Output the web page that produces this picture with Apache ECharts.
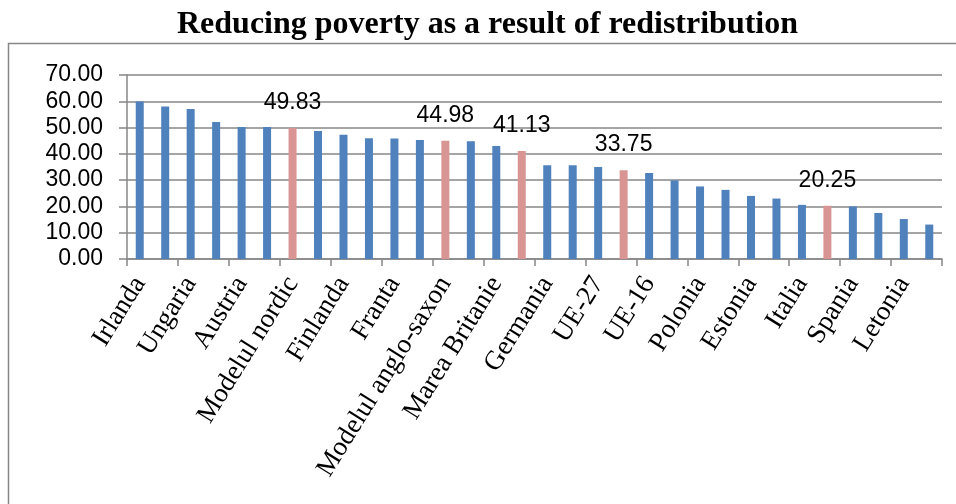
<!DOCTYPE html>
<html>
<head>
<meta charset="utf-8">
<title>Reducing poverty as a result of redistribution</title>
<script src="https://cdn.jsdelivr.net/npm/echarts@6/dist/echarts.min.js"></script>
<style>
  html, body { margin: 0; padding: 0; background: #fff; }
  #chart { width: 956px; height: 504px; }
</style>
</head>
<body>
<div id="chart"></div>
<script>
// categories (only every second one is labelled on the axis)
const categories = [
  'Irlanda', 'Danemarca', 'Ungaria', 'Suedia', 'Austria', 'Luxemburg',
  'Modelul nordic', 'Cehia', 'Finlanda', 'Belgia', 'Franta', 'Slovenia',
  'Modelul anglo-saxon', 'Olanda', 'Marea Britanie', 'Modelul continental',
  'Germania', 'Slovacia', 'UE-27', 'Modelul central-estic', 'UE-16', 'Portugalia',
  'Polonia', 'Lituania', 'Estonia', 'Bulgaria', 'Italia', 'Modelul mediteranean',
  'Spania', 'Romania', 'Letonia', 'Grecia'
]
const values = [
  59.9, 58.0, 57.1, 52.1, 50.2, 50.2, 49.83, 48.7,
  47.3, 45.9, 45.8, 45.3, 44.98, 44.8, 43.0, 41.13,
  35.7, 35.7, 35.0, 33.75, 32.7, 29.9, 27.6, 26.3,
  24.0, 23.0, 20.6, 20.25, 20.0, 17.5, 15.2, 13.1
]
// social models are highlighted in pink and labelled
const highlighted = [6, 12, 15, 19, 27]
const yTicks = [0, 10, 20, 30, 40, 50, 60, 70]

const blue = '#4f81bd'
const pink = '#d99594'
const gray = '#878787'

const chart = echarts.init(document.getElementById('chart'))

const option = {
  animation: false,
  title: {
    text: 'Reducing poverty as a result of redistribution',
    left: 177,
    top: 9,
    padding: 0,
    textStyle: {
      fontFamily: 'Liberation Serif',
      fontWeight: 'bold',
      fontSize: 32,
      color: '#000'
    }
  },
  graphic: [
    {
      type: 'rect',
      shape: { x: 8.5, y: 43.5, width: 1000, height: 500 },
      style: { fill: 'none', stroke: gray, lineWidth: 1.5 },
      silent: true
    }
  ],
  grid: { left: 127, right: 14, top: 75, bottom: 245 },
  xAxis: {
    type: 'category',
    data: categories,
    axisLine: { lineStyle: { color: gray, width: 1.5 } },
    axisTick: { show: true, length: 7, lineStyle: { color: gray, width: 1.5 } },
    axisLabel: {
      interval: 1,
      rotate: 58,
      margin: 20,
      fontFamily: 'Liberation Serif',
      fontSize: 27,
      color: '#000'
    }
  },
  yAxis: {
    type: 'value',
    min: yTicks[0],
    max: yTicks[yTicks.length - 1],
    interval: 10,
    axisLine: { show: true, lineStyle: { color: gray, width: 1.5 } },
    axisTick: { show: true, length: 8, lineStyle: { color: gray, width: 1.5 } },
    splitLine: { lineStyle: { color: gray, width: 1.5 } },
    axisLabel: {
      margin: 24,
      fontFamily: 'Liberation Sans',
      fontSize: 23,
      color: '#000',
      formatter: (v) => v.toFixed(2)
    }
  },
  series: [
    {
      type: 'bar',
      barWidth: 8,
      data: values.map((v, i) => {
        const hl = highlighted.includes(i)
        return {
          value: v,
          itemStyle: { color: hl ? pink : blue },
          label: {
            show: hl,
            position: 'top',
            distance: 14,
            fontFamily: 'Liberation Sans',
            fontSize: 23,
            color: '#000',
            formatter: (p) => p.value.toFixed(2)
          }
        }
      })
    }
  ]
}

chart.setOption(option)
</script>
</body>
</html>
